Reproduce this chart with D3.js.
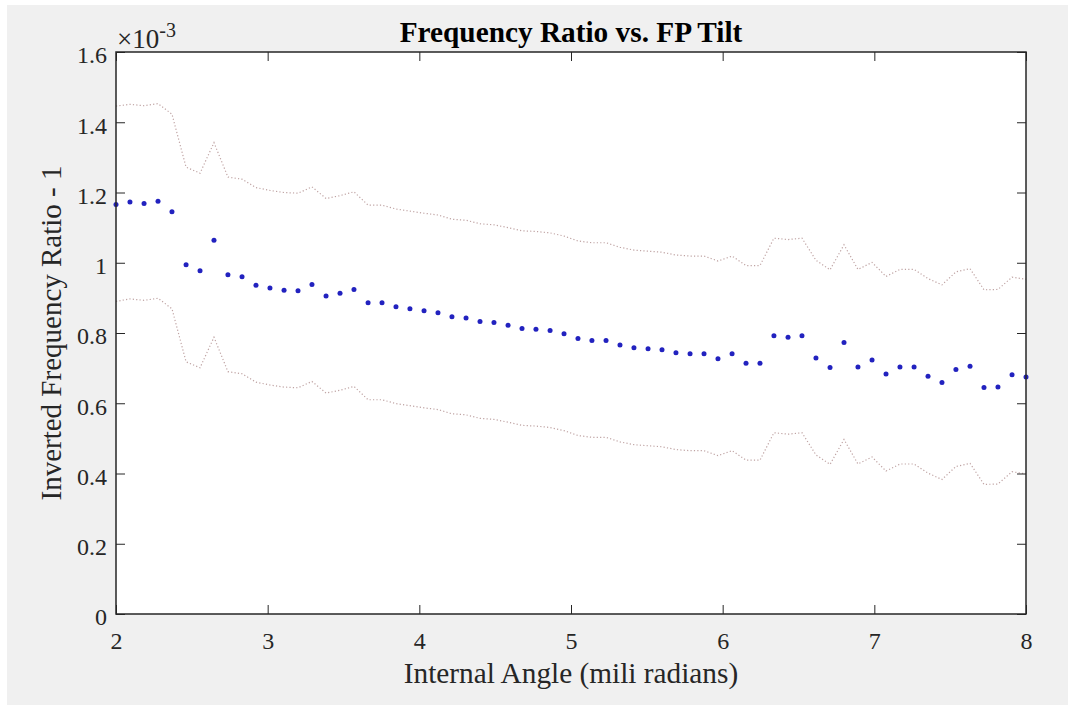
<!DOCTYPE html>
<html><head><meta charset="utf-8">
<script src="https://cdn.jsdelivr.net/npm/d3@7"></script>
<style>html,body{margin:0;padding:0;background:#fff;}</style>
</head><body>
<script>
// ---- data (values in units of 1e-3) ----
const angles = [2.000,2.092,2.185,2.277,2.369,2.462,2.554,2.646,2.738,2.831,2.923,3.015,3.108,3.200,3.292,3.385,3.477,3.569,3.662,3.754,3.846,3.938,4.031,4.123,4.215,4.308,4.400,4.492,4.585,4.677,4.769,4.862,4.954,5.046,5.138,5.231,5.323,5.415,5.508,5.600,5.692,5.785,5.877,5.969,6.062,6.154,6.246,6.338,6.431,6.523,6.615,6.708,6.800,6.892,6.985,7.077,7.169,7.262,7.354,7.446,7.538,7.631,7.723,7.815,7.908,8.000];
const ratio = [1.166,1.173,1.169,1.175,1.145,0.994,0.977,1.064,0.966,0.960,0.936,0.928,0.922,0.920,0.938,0.905,0.913,0.924,0.886,0.886,0.875,0.869,0.863,0.858,0.846,0.843,0.833,0.830,0.822,0.813,0.811,0.807,0.798,0.784,0.779,0.779,0.766,0.758,0.755,0.752,0.744,0.741,0.741,0.727,0.741,0.714,0.714,0.792,0.788,0.792,0.729,0.702,0.773,0.703,0.723,0.683,0.703,0.703,0.677,0.659,0.696,0.705,0.645,0.646,0.681,0.675];
const upper = [1.446,1.451,1.447,1.453,1.423,1.272,1.255,1.342,1.244,1.238,1.214,1.206,1.200,1.198,1.216,1.183,1.191,1.202,1.164,1.164,1.153,1.147,1.141,1.136,1.124,1.121,1.111,1.108,1.100,1.091,1.089,1.085,1.076,1.062,1.057,1.057,1.044,1.036,1.033,1.030,1.022,1.019,1.019,1.005,1.019,0.992,0.992,1.070,1.066,1.070,1.007,0.980,1.051,0.981,1.001,0.961,0.981,0.981,0.955,0.937,0.974,0.983,0.923,0.924,0.959,0.953];
const lower = [0.890,0.897,0.893,0.899,0.869,0.718,0.701,0.788,0.690,0.684,0.660,0.652,0.646,0.644,0.662,0.629,0.637,0.648,0.610,0.610,0.599,0.593,0.587,0.582,0.570,0.567,0.557,0.554,0.546,0.537,0.535,0.531,0.522,0.508,0.503,0.503,0.490,0.482,0.479,0.476,0.468,0.465,0.465,0.451,0.465,0.438,0.438,0.516,0.512,0.516,0.453,0.426,0.497,0.427,0.447,0.407,0.427,0.427,0.401,0.383,0.420,0.429,0.369,0.370,0.405,0.399];
const xTicks = [2,3,4,5,6,7,8];
const yTicks = [0,0.2,0.4,0.6,0.8,1,1.2,1.4,1.6];
const yTickLabels = ["0","0.2","0.4","0.6","0.8","1","1.2","1.4","1.6"];

const W = 1068, H = 705;
const m = {left:116, right:1026, top:52, bottom:614};
const font = "'Liberation Serif','Times New Roman',serif";
const axisColor = "#262626";

const svg = d3.select("body").append("svg").attr("width", W).attr("height", H)
  .style("display","block").attr("font-family", font);

svg.append("rect").attr("x",0).attr("y",0).attr("width",W).attr("height",H).attr("fill","#ffffff");
svg.append("rect").attr("x",7).attr("y",5).attr("width",W-7).attr("height",H-5).attr("fill","#f0f0f0");

const x = d3.scaleLinear().domain([2,8]).range([m.left, m.right]);
const y = d3.scaleLinear().domain([0,1.6]).range([m.bottom, m.top]);

svg.append("rect").attr("x",m.left).attr("y",m.top).attr("width",m.right-m.left).attr("height",m.bottom-m.top).attr("fill","#fff");

const plot = svg.append("g");
const line = d3.line().x((d,i)=>x(angles[i])).y(d=>y(d));
[upper, lower].forEach(arr => {
  plot.append("path").datum(arr).attr("d", line).attr("fill","none")
    .attr("stroke","#bfa3a3").attr("stroke-width",1.2).attr("stroke-dasharray","1.2,2.2");
});
plot.selectAll("circle.dot").data(ratio).join("circle").attr("class","dot")
  .attr("cx",(d,i)=>x(angles[i])).attr("cy",d=>y(d)).attr("r",2.5).attr("fill","#2222bf");

const tickLen = 9;
function styleAxis(g){
  g.attr("font-family", font).attr("font-size", 24);
  g.select(".domain").remove();
  g.selectAll(".tick line").attr("stroke",axisColor).attr("stroke-width",1);
  g.selectAll(".tick text").attr("fill","#262626").style("font-family",font).style("font-size","24px");
}
// bottom
svg.append("g").attr("transform",`translate(0,${m.bottom})`)
  .call(d3.axisBottom(x).tickValues(xTicks).tickFormat(d3.format("d")).tickSizeInner(-tickLen).tickSizeOuter(0).tickPadding(18))
  .call(styleAxis);
// top
svg.append("g").attr("transform",`translate(0,${m.top})`)
  .call(d3.axisTop(x).tickValues(xTicks).tickFormat("").tickSizeInner(-tickLen).tickSizeOuter(0))
  .call(styleAxis);
// left
svg.append("g").attr("transform",`translate(${m.left},0)`)
  .call(d3.axisLeft(y).tickValues(yTicks).tickFormat((d,i)=>yTickLabels[i]).tickSizeInner(-tickLen).tickSizeOuter(0).tickPadding(9))
  .call(styleAxis)
  .selectAll(".tick text").attr("dy","0.45em");
// right
svg.append("g").attr("transform",`translate(${m.right},0)`)
  .call(d3.axisRight(y).tickValues(yTicks).tickFormat("").tickSizeInner(-tickLen).tickSizeOuter(0))
  .call(styleAxis);

// box
svg.append("rect").attr("x",m.left).attr("y",m.top).attr("width",m.right-m.left).attr("height",m.bottom-m.top)
  .attr("fill","none").attr("stroke",axisColor).attr("stroke-width",1.5);

// exponent
const ex = svg.append("text").attr("x",m.left+1).attr("y",m.top-4).attr("fill","#262626").style("font-size","27px");
ex.append("tspan").text("\u00d710");
ex.append("tspan").attr("dy",-11).style("font-size","20px").text("-3");

// title
svg.append("text").attr("x",(m.left+m.right)/2).attr("y",42).attr("text-anchor","middle")
  .style("font-size","29.3px").style("font-weight","bold").attr("fill","#000").text("Frequency Ratio vs. FP Tilt");
// x label
svg.append("text").attr("x",(m.left+m.right)/2).attr("y",683).attr("text-anchor","middle")
  .style("font-size","29.3px").attr("fill","#262626").text("Internal Angle (mili radians)");
// y label
svg.append("text").attr("transform",`translate(61,${(m.top+m.bottom)/2}) rotate(-90)`).attr("text-anchor","middle")
  .style("font-size","29px").attr("fill","#262626").text("Inverted Frequency Ratio - 1");
</script>
</body></html>
